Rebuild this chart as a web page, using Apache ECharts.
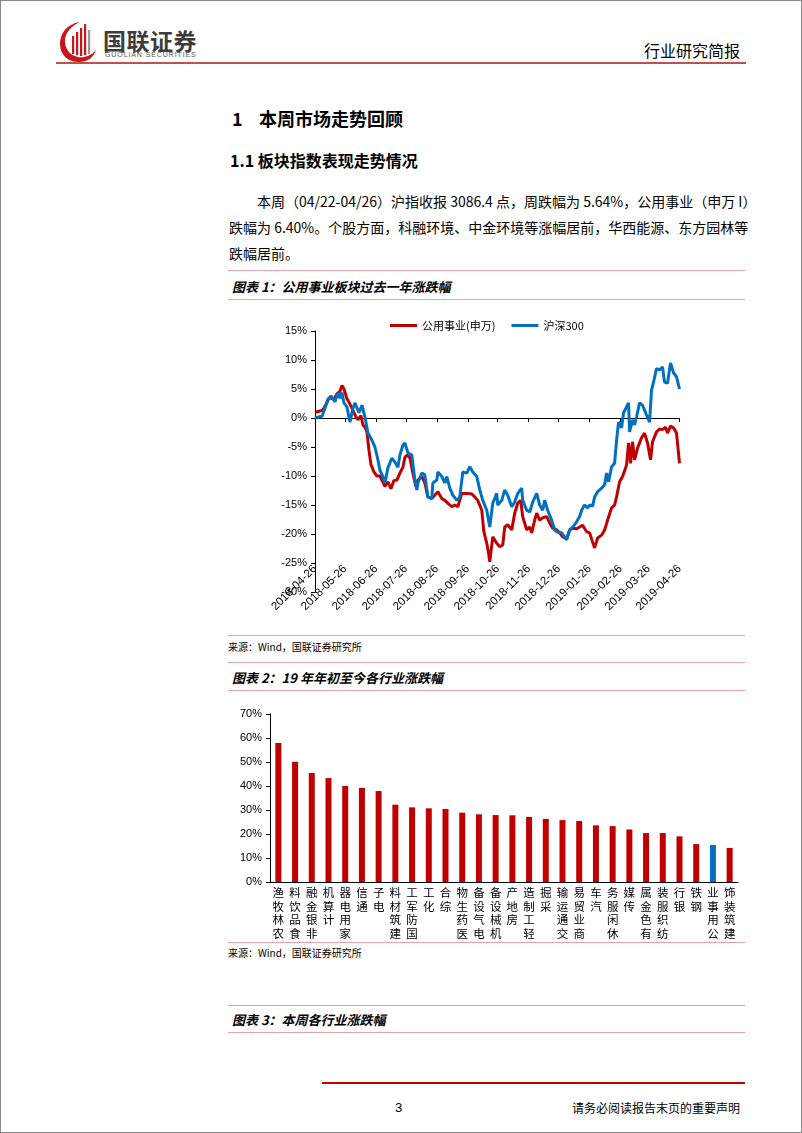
<!DOCTYPE html>
<html><head><meta charset="utf-8">
<script src="https://cdn.jsdelivr.net/npm/echarts@6/dist/echarts.min.js"></script>
<style>
html,body{margin:0;padding:0;background:#fff;}
body{width:802px;height:1133px;position:relative;overflow:hidden;font-family:"Liberation Sans","Noto Sans CJK SC",sans-serif;color:#000;}
.t{position:absolute;white-space:nowrap;}
.hl{position:absolute;height:0;}
.frame{position:absolute;left:0;top:0;width:800px;height:1131px;border:1px solid #8a8a8a;}
</style></head>
<body>
<div class="frame"></div>
<svg class="t" style="left:58px;top:20px" width="42" height="44" viewBox="0 0 42 44">
  <path d="M22 2 C8 4 2 14 2 24 C2 35 10 42 21 42 C30 42 36 37 38 30 C33 36 26 38 20 37 C11 35 7 28 7 21 C7 13 13 6 22 2 Z" fill="#c8161d"/>
  <rect x="14" y="16" width="2.2" height="18" fill="#c8161d"/>
  <rect x="18" y="12" width="2.2" height="23" fill="#c8161d"/>
  <rect x="22" y="8" width="2.2" height="28" fill="#c8161d"/>
  <rect x="26" y="4" width="2.2" height="31" fill="#c8161d"/>
  <rect x="30" y="10" width="2.2" height="24" fill="#9a9a9a"/>
</svg>
<div class="t" style="left:103px;top:26px;font-size:23px;line-height:28px;font-weight:bold;color:#3c3c3c;font-family:'Noto Sans CJK SC';letter-spacing:0.5px">国联证券</div>
<div class="t" style="left:105px;top:50px;font-size:7px;line-height:9px;color:#555;letter-spacing:0.9px">GUOLIAN SECURITIES</div>
<div class="t" style="left:644px;top:40px;font-size:16px;line-height:20px;font-family:'Noto Sans CJK SC'">行业研究简报</div>
<div class="hl" style="left:56px;top:62px;width:690px;border-top:2px solid #c0504d"></div>

<div class="t" style="left:232px;top:106px;font-size:18px;line-height:24px;font-weight:bold;font-family:'Noto Sans CJK SC'">1</div>
<div class="t" style="left:259px;top:106px;font-size:18px;line-height:24px;font-weight:bold;font-family:'Noto Sans CJK SC'">本周市场走势回顾</div>
<div class="t" style="left:230px;top:149px;font-size:16px;line-height:22px;font-weight:bold;font-family:'Noto Sans CJK SC'">1.1 板块指数表现走势情况</div>

<div class="t" style="left:257px;top:191px;width:484px;font-size:14px;line-height:20px;text-align:justify;text-align-last:justify;font-family:'Noto Sans CJK SC'">本周（04/22-04/26）沪指收报 3086.4 点，周跌幅为 5.64%，公用事业（申万 I）</div>
<div class="t" style="left:229px;top:217px;width:512px;font-size:14px;line-height:20px;text-align:justify;text-align-last:justify;font-family:'Noto Sans CJK SC'">跌幅为 6.40%。个股方面，科融环境、中金环境等涨幅居前，华西能源、东方园林等</div>
<div class="t" style="left:229px;top:243px;font-size:14px;line-height:20px;font-family:'Noto Sans CJK SC'">跌幅居前。</div>

<div class="hl" style="left:228px;top:270px;width:517px;border-top:1.5px solid #e3a1b4"></div>
<div class="t" style="left:232px;top:278px;font-size:13px;line-height:17px;font-weight:bold;font-style:italic;font-family:'Noto Sans CJK SC'">图表 1：公用事业板块过去一年涨跌幅</div>
<div class="hl" style="left:228px;top:299px;width:517px;border-top:1.5px solid #e3a1b4"></div>
<div id="c1" style="position:absolute;left:220px;top:300px;width:525px;height:334px"></div>
<div class="hl" style="left:228px;top:635px;width:517px;border-top:1.5px solid #e3a1b4"></div>
<div class="t" style="left:228px;top:640px;font-size:10px;line-height:13px;font-family:'Noto Sans CJK SC'">来源：Wind，国联证券研究所</div>

<div class="hl" style="left:228px;top:662px;width:517px;border-top:1.5px solid #e3a1b4"></div>
<div class="t" style="left:232px;top:669px;font-size:13px;line-height:17px;font-weight:bold;font-style:italic;font-family:'Noto Sans CJK SC'">图表 2：19 年年初至今各行业涨跌幅</div>
<div class="hl" style="left:228px;top:690px;width:517px;border-top:1.5px solid #e3a1b4"></div>
<div id="c2" style="position:absolute;left:220px;top:692px;width:525px;height:249px"></div>
<div class="hl" style="left:228px;top:942px;width:517px;border-top:1.5px solid #e3a1b4"></div>
<div class="t" style="left:228px;top:946px;font-size:10px;line-height:13px;font-family:'Noto Sans CJK SC'">来源：Wind，国联证券研究所</div>

<div class="hl" style="left:228px;top:1005px;width:517px;border-top:1.5px solid #e3a1b4"></div>
<div class="t" style="left:232px;top:1011px;font-size:13px;line-height:17px;font-weight:bold;font-style:italic;font-family:'Noto Sans CJK SC'">图表 3：本周各行业涨跌幅</div>
<div class="hl" style="left:228px;top:1032px;width:517px;border-top:1.5px solid #e3a1b4"></div>

<div class="hl" style="left:322px;top:1082px;width:423px;border-top:2px solid #c00000"></div>
<div class="t" style="left:395px;top:1100px;font-size:13px;line-height:16px">3</div>
<div class="t" style="left:572px;top:1100px;font-size:12px;line-height:16px;font-family:'Noto Sans CJK SC'">请务必阅读报告末页的重要声明</div>

<script>
// ---------- Chart 1 data: 公用事业(申万) vs 沪深300, cumulative % change ----------
const seriesNames = ['公用事业(申万)', '沪深300'];
const axisStart = '2018-04-26';
const axisEnd = '2019-04-26';
const yTicks1 = [-30, -25, -20, -15, -10, -5, 0, 5, 10, 15];

const utilities = [
 ['2018-04-26',1.0],['2018-05-01',1.2],['2018-05-04',1.4],['2018-05-07',2.4],['2018-05-10',3.5],
 ['2018-05-12',3.7],['2018-05-15',3.2],['2018-05-18',4.2],['2018-05-21',4.6],['2018-05-23',5.6],
 ['2018-05-25',5.0],['2018-05-28',3.3],['2018-05-31',2.4],['2018-06-03',1.3],['2018-06-06',0.2],
 ['2018-06-08',-0.3],['2018-06-11',0.4],['2018-06-13',-1.2],['2018-06-15',-1.6],['2018-06-17',-2.4],
 ['2018-06-19',-5.5],['2018-06-21',-8.0],['2018-06-24',-9.3],['2018-06-27',-10.0],['2018-06-30',-10.0],
 ['2018-07-02',-10.7],['2018-07-05',-11.8],['2018-07-08',-11.0],['2018-07-11',-12.2],['2018-07-14',-10.8],
 ['2018-07-17',-10.7],['2018-07-20',-9.5],['2018-07-23',-8.5],['2018-07-25',-6.8],['2018-07-27',-6.4],
 ['2018-07-30',-6.8],['2018-08-02',-9.5],['2018-08-05',-11.8],['2018-08-07',-10.7],['2018-08-11',-10.1],
 ['2018-08-14',-11.2],['2018-08-17',-13.6],['2018-08-21',-13.9],['2018-08-24',-13.3],['2018-08-27',-12.7],
 ['2018-08-31',-13.9],['2018-09-03',-14.2],['2018-09-06',-14.7],['2018-09-10',-15.3],['2018-09-13',-15.0],
 ['2018-09-16',-15.3],['2018-09-20',-13.0],['2018-09-23',-13.0],['2018-09-26',-13.0],['2018-09-30',-13.1],
 ['2018-10-03',-13.6],['2018-10-06',-14.2],['2018-10-10',-15.9],['2018-10-12',-19.5],['2018-10-15',-21.6],
 ['2018-10-17',-23.5],['2018-10-18',-24.8],['2018-10-21',-20.5],['2018-10-25',-21.6],['2018-10-28',-22.2],
 ['2018-10-31',-21.9],['2018-11-02',-18.8],['2018-11-05',-18.4],['2018-11-09',-19.3],['2018-11-12',-16.4],
 ['2018-11-15',-14.7],['2018-11-18',-14.2],['2018-11-20',-17.0],['2018-11-24',-19.3],['2018-11-27',-18.8],
 ['2018-11-29',-19.8],['2018-12-02',-17.6],['2018-12-04',-16.4],['2018-12-07',-17.6],['2018-12-10',-17.2],
 ['2018-12-14',-17.0],['2018-12-17',-18.1],['2018-12-20',-19.0],['2018-12-24',-19.3],['2018-12-27',-19.8],
 ['2018-12-30',-20.5],['2019-01-03',-20.8],['2019-01-06',-19.3],['2019-01-09',-19.0],['2019-01-13',-19.1],
 ['2019-01-16',-18.8],['2019-01-19',-18.5],['2019-01-23',-19.6],['2019-01-26',-19.8],['2019-01-29',-21.4],
 ['2019-01-31',-22.4],['2019-02-03',-20.7],['2019-02-07',-20.2],['2019-02-10',-19.3],['2019-02-13',-17.6],
 ['2019-02-17',-15.5],['2019-02-20',-15.0],['2019-02-22',-13.6],['2019-02-25',-11.0],['2019-02-28',-10.1],
 ['2019-03-04',-8.1],['2019-03-06',-4.3],['2019-03-08',-7.8],['2019-03-10',-4.1],['2019-03-12',-7.2],
 ['2019-03-15',-5.2],['2019-03-19',-3.4],['2019-03-22',-2.6],['2019-03-25',-4.3],['2019-03-28',-7.2],
 ['2019-03-30',-4.1],['2019-04-03',-2.4],['2019-04-06',-1.9],['2019-04-09',-2.0],['2019-04-12',-1.6],
 ['2019-04-14',-2.6],['2019-04-17',-1.4],['2019-04-20',-1.7],['2019-04-23',-2.6],['2019-04-26',-7.8]
];

const hs300 = [
 ['2018-04-26',0.0],['2018-04-30',0.2],['2018-05-03',0.3],['2018-05-06',1.7],['2018-05-09',3.1],
 ['2018-05-12',3.8],['2018-05-14',4.0],['2018-05-16',2.8],['2018-05-19',4.3],['2018-05-21',3.4],
 ['2018-05-23',4.4],['2018-05-25',2.6],['2018-05-28',1.9],['2018-05-31',-0.7],['2018-06-03',1.7],
 ['2018-06-05',2.6],['2018-06-07',2.4],['2018-06-09',0.9],['2018-06-12',2.2],['2018-06-15',0.2],
 ['2018-06-18',-2.6],['2018-06-22',-3.8],['2018-06-25',-5.0],['2018-06-28',-7.2],['2018-06-30',-9.0],
 ['2018-07-03',-10.1],['2018-07-05',-11.2],['2018-07-08',-8.6],['2018-07-12',-6.9],['2018-07-15',-7.6],
 ['2018-07-18',-8.5],['2018-07-20',-6.4],['2018-07-23',-4.7],['2018-07-25',-4.3],['2018-07-28',-6.0],
 ['2018-08-01',-6.4],['2018-08-04',-10.7],['2018-08-06',-12.4],['2018-08-07',-11.2],['2018-08-11',-9.5],
 ['2018-08-14',-9.8],['2018-08-17',-13.6],['2018-08-21',-13.9],['2018-08-22',-11.2],['2018-08-26',-10.7],
 ['2018-08-27',-9.3],['2018-08-31',-10.1],['2018-09-03',-11.2],['2018-09-05',-10.1],['2018-09-08',-12.1],
 ['2018-09-11',-13.3],['2018-09-15',-14.2],['2018-09-18',-13.6],['2018-09-21',-9.3],['2018-09-25',-9.5],
 ['2018-09-28',-8.4],['2018-10-01',-9.3],['2018-10-05',-10.1],['2018-10-08',-12.4],['2018-10-11',-14.2],
 ['2018-10-15',-15.9],['2018-10-18',-18.8],['2018-10-21',-14.7],['2018-10-25',-13.0],['2018-10-26',-15.0],
 ['2018-10-30',-14.2],['2018-11-02',-12.4],['2018-11-05',-13.3],['2018-11-09',-15.3],['2018-11-12',-14.5],
 ['2018-11-15',-13.0],['2018-11-19',-12.1],['2018-11-20',-14.2],['2018-11-24',-15.9],['2018-11-27',-16.2],
 ['2018-11-30',-14.5],['2018-12-04',-13.0],['2018-12-07',-15.0],['2018-12-10',-15.9],['2018-12-12',-14.2],
 ['2018-12-15',-15.9],['2018-12-19',-17.6],['2018-12-22',-19.3],['2018-12-25',-19.7],['2018-12-29',-19.8],
 ['2019-01-01',-20.5],['2019-01-03',-21.0],['2019-01-06',-19.3],['2019-01-09',-18.8],['2019-01-13',-17.9],
 ['2019-01-16',-17.0],['2019-01-18',-15.9],['2019-01-21',-15.0],['2019-01-24',-15.5],['2019-01-26',-15.0],
 ['2019-01-29',-15.2],['2019-01-31',-13.6],['2019-02-03',-12.7],['2019-02-07',-12.1],['2019-02-10',-11.5],
 ['2019-02-12',-9.5],['2019-02-14',-11.0],['2019-02-17',-8.4],['2019-02-20',-7.8],['2019-02-22',-3.8],
 ['2019-02-24',-0.7],['2019-02-27',-1.7],['2019-03-01',0.9],['2019-03-04',1.9],['2019-03-06',2.6],
 ['2019-03-07',-2.4],['2019-03-10',-0.3],['2019-03-12',-1.2],['2019-03-14',0.2],['2019-03-17',2.6],
 ['2019-03-20',2.2],['2019-03-24',0.5],['2019-03-27',-0.7],['2019-03-29',4.8],['2019-03-31',6.2],
 ['2019-04-03',8.5],['2019-04-06',8.3],['2019-04-09',8.8],['2019-04-11',6.2],['2019-04-14',6.0],
 ['2019-04-17',9.5],['2019-04-19',9.8],['2019-04-20',7.8],['2019-04-23',7.1],['2019-04-26',5.0]
];

// ---------- Chart 2 data: YTD % change by industry ----------
const industries = ['农林牧渔','食品饮料','非银金融','计算机','家用电器','通信','电子','建筑材料','国防军工','化工',
 '综合','医药生物','电气设备','机械设备','房地产','轻工制造','采掘','交通运输','商业贸易','汽车',
 '休闲服务','传媒','有色金属','纺织服装','银行','钢铁','公用事业','建筑装饰'];
const ytdChange = [57.9,50.1,45.4,43.3,40.0,39.2,37.9,32.2,31.1,30.7,
 30.4,28.9,28.2,27.9,27.8,27.1,26.3,25.8,25.4,23.6,
 23.3,21.9,20.4,20.4,19.0,15.8,15.4,14.2];
const highlightIndustry = '公用事业';
const yTicks2 = [0, 10, 20, 30, 40, 50, 60, 70];

// ---------- build the daily calendar category axis ----------
function fmt(d){ return d.toISOString().slice(0,10); }
const days = [];
for (let d = new Date(axisStart + 'T00:00:00Z'); fmt(d) <= axisEnd; d.setUTCDate(d.getUTCDate()+1)) days.push(fmt(d));
const isTickDay = (i, v) => v.slice(8) === '26';

const RED = '#c00000', BLUE = '#0070c0';
const lab = {color:'#000', fontSize:11, fontFamily:'Liberation Sans'};

const c1 = echarts.init(document.getElementById('c1'));
c1.setOption({
  animation:false,
  legend:{top:15, left:165, itemWidth:27, itemHeight:3, itemGap:16, icon:'rect',
    textStyle:{color:'#000', fontSize:11, fontFamily:'Noto Sans CJK SC'}, data:seriesNames},
  grid:{left:95, top:31, width:364.5, height:261},
  xAxis:{type:'category', data:days, boundaryGap:false, offset:-29,
    axisLine:{lineStyle:{color:'#000', width:1}},
    axisTick:{interval:isTickDay, length:4, lineStyle:{color:'#000'}},
    axisLabel:Object.assign({interval:isTickDay, rotate:45, margin:4}, lab, {fontSize:11.5}),
    splitLine:{show:false}},
  yAxis:{type:'value', min:yTicks1[0], max:yTicks1[yTicks1.length-1], interval:5,
    axisLine:{show:true, lineStyle:{color:'#000', width:1}},
    axisTick:{show:true, length:4, lineStyle:{color:'#000'}},
    axisLabel:Object.assign({formatter:'{value}%', margin:8}, lab),
    splitLine:{show:false}},
  series:[
    {name:seriesNames[0], type:'line', data:utilities, showSymbol:false, symbol:'none',
      lineStyle:{color:RED, width:3}, itemStyle:{color:RED}, z:2},
    {name:seriesNames[1], type:'line', data:hs300, showSymbol:false, symbol:'none',
      lineStyle:{color:BLUE, width:3}, itemStyle:{color:BLUE}, z:3}
  ]
});

const c2 = echarts.init(document.getElementById('c2'));
c2.setOption({
  animation:false,
  grid:{left:50, top:22, width:468, height:168},
  xAxis:{type:'category', data:industries,
    axisLine:{lineStyle:{color:'#000', width:1}},
    axisTick:{length:3, lineStyle:{color:'#000'}},
    axisLabel:{interval:0, margin:4, fontSize:11.5, lineHeight:13.5, color:'#000', fontFamily:'Noto Sans CJK SC',
      formatter: v => v.split('').reverse().join('\n')}},
  yAxis:{type:'value', min:yTicks2[0], max:yTicks2[yTicks2.length-1], interval:10,
    axisLine:{show:true, lineStyle:{color:'#000', width:1}},
    axisTick:{show:true, length:4, lineStyle:{color:'#000'}},
    axisLabel:Object.assign({formatter:'{value}%', margin:8}, lab),
    splitLine:{show:false}},
  series:[{type:'bar', barWidth:6,
    data: ytdChange.map((v,i) => ({value:v, itemStyle:{color: industries[i]===highlightIndustry ? BLUE : RED}}))}]
});
</script>
</body></html>
